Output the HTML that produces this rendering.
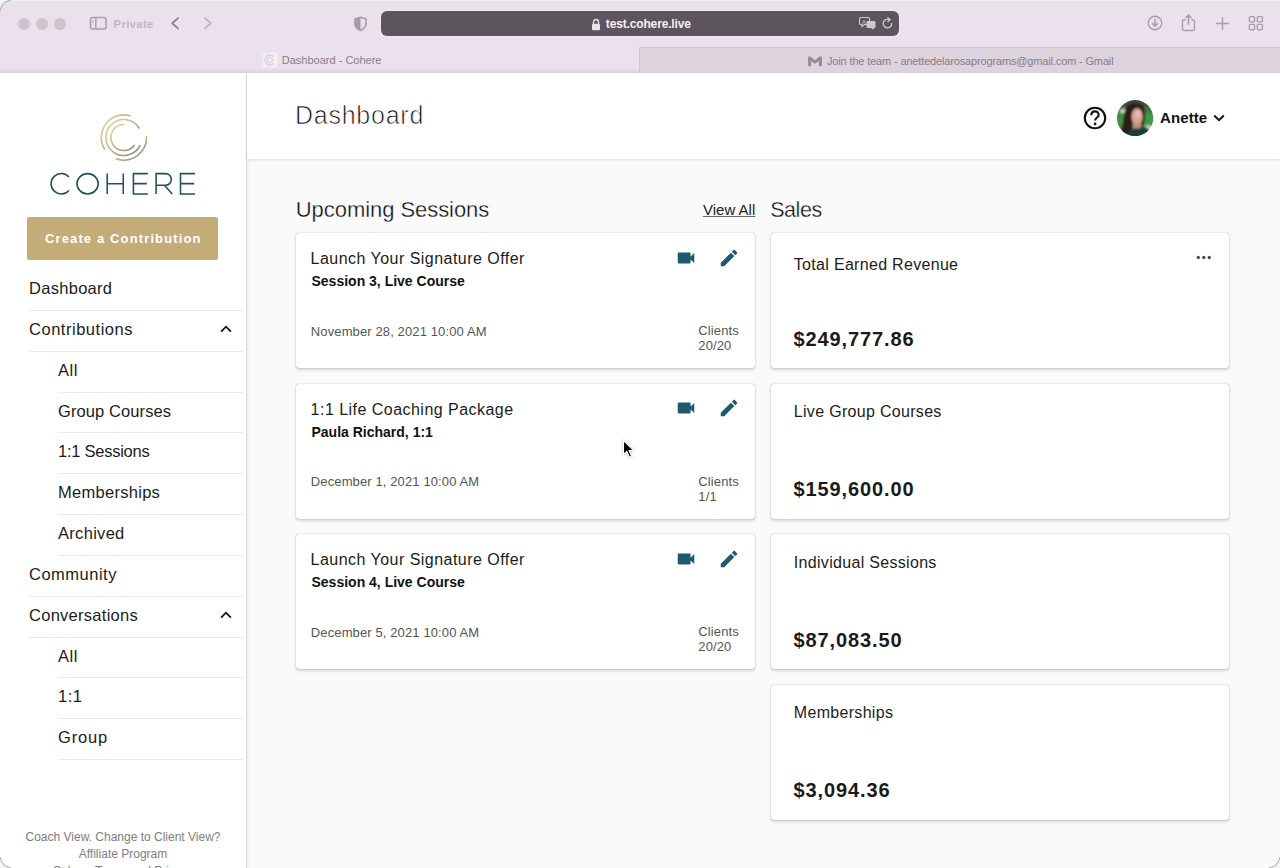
<!DOCTYPE html>
<html><head><meta charset="utf-8"><title>Dashboard - Cohere</title>
<style>
*{box-sizing:border-box;margin:0;padding:0}
html,body{width:1280px;height:868px;overflow:hidden;background:#fafafa;font-family:"Liberation Sans",sans-serif;color:#1c1c1c}
.abs{position:absolute}
#chrome{position:absolute;left:0;top:0;width:1280px;height:73px;background:#ebe1ec}
#url{position:absolute;left:381px;top:11px;width:518px;height:25px;border-radius:6px;background:#5c555d;box-shadow:0 0 0 0.8px #f3e9f4}
#tabL{position:absolute;left:0;top:47px;width:639px;height:26px;background:#ebe1ec}
#tabR{position:absolute;left:639px;top:47px;width:641px;height:26px;background:#dcd3dc;border-left:1px solid #cfc6d0;border-top:1px solid #d0c7d1}
.tl{position:absolute;top:18px;width:11.5px;height:11.5px;border-radius:50%;background:#cdc4ce}
.ttxt{position:absolute;font-size:11px;color:#877d89;white-space:nowrap;line-height:13px}
#sidebar{position:absolute;left:0;top:73px;width:247px;height:795px;background:#fff;border-right:1px solid #dcdcdc;box-shadow:1px 0 4px rgba(0,0,0,.08)}
.nav{position:absolute;left:29px;width:213.5px;height:41px;border-bottom:1px solid #ebebeb;font-size:16.5px;letter-spacing:0.45px;color:#1c1c1c;white-space:nowrap}
.nav.sub{left:58px;width:184.5px}
.nav span{position:absolute;left:0;top:9.2px;line-height:18px}
.chev{position:absolute;right:11px;top:14.6px}
#header{position:absolute;left:247px;top:73px;width:1033px;height:86px;background:#fff;box-shadow:0 1px 3px rgba(0,0,0,.12)}
.card{position:absolute;background:#fff;border-radius:3px;box-shadow:0 0 1px rgba(0,0,0,.45),0 1.5px 3px rgba(0,0,0,.15)}
.t16{font-size:16px;color:#1c1c1c;line-height:18px;white-space:nowrap;letter-spacing:0.47px}
.b14{font-size:14px;font-weight:700;color:#111;line-height:16px;white-space:nowrap}
.d13{font-size:13px;color:#555;line-height:14.7px;white-space:nowrap;letter-spacing:0.12px}
.v20{font-size:20px;font-weight:700;color:#1a1a1a;line-height:23px;white-space:nowrap;letter-spacing:0.9px}
</style></head>
<body>
<div id="chrome">
  <div class="abs" style="left:0;top:0;width:1280px;height:6px;background:linear-gradient(#f1f0f2 0,#f1f0f2 1px,#e6e2e7 1.5px,#e7e3e8 6px)"></div>
  <div class="tl" style="left:18px"></div>
  <div class="tl" style="left:36.2px"></div>
  <div class="tl" style="left:54.2px"></div>
  <svg class="abs" style="left:88.5px;top:15.7px" width="19" height="15" viewBox="0 0 19 15"><rect x="1.5" y="1.5" width="15.5" height="11.5" rx="2.2" fill="none" stroke="#a79dab" stroke-width="1.5"/><line x1="6.8" y1="1.5" x2="6.8" y2="13" stroke="#a79dab" stroke-width="1.4"/><line x1="4" y1="4.2" x2="4" y2="6.8" stroke="#a79dab" stroke-width="1.2"/></svg>
  <div class="abs" style="left:113.5px;top:17.5px;font-size:11.3px;font-weight:700;color:#c0b6c2;line-height:13px;letter-spacing:0.35px">Private</div>
  <svg class="abs" style="left:168px;top:14px" width="14" height="18" viewBox="0 0 14 18"><path d="M10 4.2 L4.2 9.3 L10 14.4" fill="none" stroke="#8f8592" stroke-width="1.8" stroke-linecap="round" stroke-linejoin="round"/></svg>
  <svg class="abs" style="left:201px;top:14px" width="14" height="18" viewBox="0 0 14 18"><path d="M4 4.2 L9.8 9.3 L4 14.4" fill="none" stroke="#bfb5c2" stroke-width="1.8" stroke-linecap="round" stroke-linejoin="round"/></svg>
  <svg class="abs" style="left:352.6px;top:15.7px" width="15" height="17" viewBox="0 0 15 17"><path d="M7.5 1.2 L13 2.9 V8 C13 10.9 10.7 13 7.5 14.4 C4.3 13 2 10.9 2 8 V2.9 Z" fill="none" stroke="#a59ba8" stroke-width="1.6" stroke-linejoin="round"/><path d="M7.5 1.2 L2 2.9 V8 C2 10.9 4.3 13 7.5 14.4 Z" fill="#a59ba8"/></svg>
  <div id="url">
    <svg class="abs" style="left:210.3px;top:6.6px" width="10" height="13" viewBox="0 0 10 13"><path d="M2.5 6 V4 a2.5 2.5 0 0 1 5 0 V6" fill="none" stroke="#e8e2ea" stroke-width="1.4"/><rect x="1" y="5.8" width="8" height="6.4" rx="1.2" fill="#e8e2ea"/></svg>
    <div class="abs" style="left:224.8px;top:6px;font-size:12px;font-weight:700;color:#f4f0f5;line-height:15px;letter-spacing:-0.15px">test.cohere.live</div>
    <svg class="abs" style="left:478px;top:5px" width="18" height="15" viewBox="0 0 18 15"><path d="M1.5 1.5 h8 a1 1 0 0 1 1 1 v5 a1 1 0 0 1 -1 1 h-4 l-2.5 2 v-2 h-1.5 a1 1 0 0 1 -1 -1 v-5 a1 1 0 0 1 1 -1z" fill="none" stroke="#cfc8d1" stroke-width="1.1"/><path d="M8.5 5 h7 a1 1 0 0 1 1 1 v5 a1 1 0 0 1 -1 1 h-1 v2 l-2.5 -2 h-3.5 a1 1 0 0 1 -1 -1 v-5 a1 1 0 0 1 1 -1z" fill="#cfc8d1"/><text x="3" y="7.5" font-size="6" fill="#cfc8d1" font-family="Liberation Sans">A</text></svg>
    <svg class="abs" style="left:500px;top:6px" width="13" height="13" viewBox="0 0 13 13"><path d="M10.8 6.5 A4.3 4.3 0 1 1 8.3 2.6" fill="none" stroke="#cfc8d1" stroke-width="1.3" stroke-linecap="round"/><path d="M6.8 0.8 L9.2 2.6 L7 4.6" fill="none" stroke="#cfc8d1" stroke-width="1.3" stroke-linecap="round" stroke-linejoin="round"/></svg>
  </div>
  <svg class="abs" style="left:1145.5px;top:14.4px" width="18" height="18" viewBox="0 0 18 18"><circle cx="9" cy="9" r="6.75" fill="none" stroke="#a89eab" stroke-width="1.4"/><path d="M9 5.3 V12 M6.5 9.6 L9 12.1 L11.5 9.6" fill="none" stroke="#a89eab" stroke-width="1.5" stroke-linecap="round" stroke-linejoin="round"/></svg>
  <svg class="abs" style="left:1180px;top:12px" width="17" height="20" viewBox="0 0 17 20"><path d="M5.5 7.8 H4.3 A1.8 1.8 0 0 0 2.5 9.6 V16.7 A1.8 1.8 0 0 0 4.3 18.5 H12.7 A1.8 1.8 0 0 0 14.5 16.7 V9.6 A1.8 1.8 0 0 0 12.7 7.8 H11.5" fill="none" stroke="#a89eab" stroke-width="1.4" stroke-linejoin="round"/><path d="M8.5 12.5 V3.2 M6 5.6 L8.5 3.1 L11 5.6" fill="none" stroke="#a89eab" stroke-width="1.5" stroke-linecap="round" stroke-linejoin="round"/></svg>
  <svg class="abs" style="left:1213.5px;top:14.7px" width="17" height="17" viewBox="0 0 17 17"><path d="M8.5 2.6 V14.4 M2.6 8.5 H14.4" stroke="#a89eab" stroke-width="1.5" stroke-linecap="round"/></svg>
  <svg class="abs" style="left:1247.6px;top:14.5px" width="17" height="17" viewBox="0 0 17 17"><rect x="1.3" y="1.6" width="5.3" height="5.3" rx="1.3" fill="none" stroke="#a89eab" stroke-width="1.4"/><rect x="9.2" y="1.6" width="5.3" height="5.3" rx="1.3" fill="none" stroke="#a89eab" stroke-width="1.4"/><rect x="1.3" y="9.4" width="5.3" height="5.3" rx="1.3" fill="none" stroke="#a89eab" stroke-width="1.4"/><rect x="9.2" y="9.4" width="5.3" height="5.3" rx="1.3" fill="none" stroke="#a89eab" stroke-width="1.4"/></svg>
  <div id="tabL">
    <svg class="abs" style="left:262px;top:5px" width="16" height="16" viewBox="0 0 16 16"><rect x="0.5" y="0.5" width="15" height="15" rx="3" fill="#f3eef4"/><path d="M11.5 4.5 A5 5 0 1 0 12 11" fill="none" stroke="#d8d0da" stroke-width="1.4"/><circle cx="8" cy="8" r="2.5" fill="none" stroke="#d8d0da" stroke-width="1.2"/></svg>
    <div class="ttxt" style="left:281.8px;top:7px">Dashboard - Cohere</div>
  </div>
  <div class="abs" style="left:0;top:68px;width:1280px;height:5px;background:linear-gradient(rgba(90,80,95,0),rgba(90,80,95,.09))"></div>
  <div id="tabR">
    <svg class="abs" style="left:168px;top:8px" width="14" height="11" viewBox="0 0 14 11"><path d="M1.6 10.2 V1.8 L7 6.2 L12.4 1.8 V10.2" fill="none" stroke="#958b97" stroke-width="3" stroke-linejoin="round"/></svg>
    <div class="ttxt" style="left:187px;top:7px;letter-spacing:-0.15px">Join the team - anettedelarosaprograms@gmail.com - Gmail</div>
  </div>
</div>

<div id="sidebar">
  <svg class="abs" style="left:94px;top:35.8px" width="60" height="56" viewBox="0 0 60 56">
    <defs><linearGradient id="lg" x1="0" y1="0" x2="1" y2="1"><stop offset="0" stop-color="#e2dc9c"/><stop offset="0.5" stop-color="#c0b28a"/><stop offset="1" stop-color="#8a8276"/></linearGradient></defs>
    <g fill="none" stroke="url(#lg)" stroke-width="1.6" stroke-linecap="round">
      <path d="M35.94 6.72 A22.6 22.6 0 0 0 10.43 39.97"/>
      <path d="M22.54 49.87 A22.6 22.6 0 0 0 52.49 27.83"/>
      <path d="M45.16 18.96 A18.0 18.0 0 1 0 45.94 36.67"/>
      <path d="M29.58 15.50 A13.0 13.0 0 1 0 40.14 36.50"/>
    </g>
  </svg>
  <svg class="abs" style="left:46px;top:96px" width="156" height="30" viewBox="0 0 156 30">
    <g fill="none" stroke="#22505f" stroke-width="1.55">
      <path d="M22.95 8.06 A10.2 10.2 0 1 0 22.95 21.44"/>
      <ellipse cx="41.6" cy="14.75" rx="10.6" ry="10.15"/>
      <path d="M61.2 4.6 V24.9 M77.25 4.6 V24.9 M61.2 14.75 H77.25"/>
      <path d="M101.8 4.6 H87.4 V24.9 H101.8 M87.4 14.6 H100.9"/>
      <path d="M110.1 24.9 V4.6 H119.5 A5.85 5.85 0 0 1 119.5 16.3 H110.1 M118.5 16.3 L126.2 24.9"/>
      <path d="M149 4.6 H134.5 V24.9 H149 M134.5 14.6 H148.1"/>
    </g>
  </svg>
  <div class="abs" style="left:27px;top:144px;width:191px;height:43px;background:#c4ac78;border-radius:2px;color:#fff;font-size:13px;font-weight:700;letter-spacing:1.13px;padding-left:1.6px;line-height:43px;text-align:center">Create a Contribution</div>
  <div class="nav" style="top:196.90px"><span style="letter-spacing:0.29px">Dashboard</span></div>
  <div class="nav" style="top:237.74px"><span style="letter-spacing:0.52px">Contributions</span><svg class="chev" width="12" height="8" viewBox="0 0 12 8"><path d="M1.1 6.6 L6 1.7 L10.9 6.6" fill="none" stroke="#111" stroke-width="1.8"/></svg></div>
  <div class="nav sub" style="top:278.58px"><span style="letter-spacing:0.6px">All</span></div>
  <div class="nav sub" style="top:319.42px"><span style="letter-spacing:0.1px">Group Courses</span></div>
  <div class="nav sub" style="top:360.26px"><span style="letter-spacing:-0.25px">1:1 Sessions</span></div>
  <div class="nav sub" style="top:401.10px"><span style="letter-spacing:0.28px">Memberships</span></div>
  <div class="nav sub" style="top:441.94px"><span style="letter-spacing:0.3px">Archived</span></div>
  <div class="nav" style="top:482.78px"><span style="letter-spacing:0.5px">Community</span></div>
  <div class="nav" style="top:523.62px"><span style="letter-spacing:0.27px">Conversations</span><svg class="chev" width="12" height="8" viewBox="0 0 12 8"><path d="M1.1 6.6 L6 1.7 L10.9 6.6" fill="none" stroke="#111" stroke-width="1.8"/></svg></div>
  <div class="nav sub" style="top:564.46px"><span style="letter-spacing:0.6px">All</span></div>
  <div class="nav sub" style="top:605.30px"><span style="letter-spacing:0.5px">1:1</span></div>
  <div class="nav sub" style="top:646.14px"><span style="letter-spacing:0.8px">Group</span></div>
  <div class="abs" style="left:0;top:755.8px;width:246px;text-align:center;font-size:12px;color:#7d7d7d;line-height:17.2px">Coach View. Change to Client View?<br>Affiliate Program<br>Cohere Terms and Privacy</div>
</div>

<div id="header">
  <div class="abs" style="left:48px;top:28.2px;font-size:25px;color:#111;letter-spacing:0.75px;line-height:28px;-webkit-text-stroke:0.7px #fff">Dashboard</div>
  <svg class="abs" style="left:835px;top:32px" width="26" height="26" viewBox="0 0 26 26"><circle cx="13" cy="13" r="10.2" fill="none" stroke="#111" stroke-width="2.1"/><path d="M9.3 10.2 C9.3 7.8 11 6.4 13 6.4 C15 6.4 16.7 7.8 16.7 9.9 C16.7 12.3 13.1 12.7 13.1 15.6" fill="none" stroke="#111" stroke-width="2.1"/><circle cx="13.1" cy="18.9" r="1.35" fill="#111"/></svg>
  <svg id="avatar" class="abs" style="left:869.8px;top:26.8px" width="36.2" height="36.2" viewBox="0 0 36 36">
    <defs><clipPath id="avc"><circle cx="18" cy="18" r="18"/></clipPath><filter id="avb" x="-20%" y="-20%" width="140%" height="140%"><feGaussianBlur stdDeviation="0.9"/></filter></defs>
    <g clip-path="url(#avc)"><g filter="url(#avb)">
      <rect x="-3" y="-3" width="42" height="42" fill="#5d6b5a"/>
      <rect x="-3" y="-3" width="42" height="9" fill="#3e4a3d"/>
      <ellipse cx="5" cy="18" rx="7" ry="8" fill="#3f8e40"/>
      <ellipse cx="6" cy="11" rx="3" ry="2" fill="#c9d6c2"/>
      <ellipse cx="30" cy="17" rx="8" ry="10" fill="#3d9a45"/>
      <ellipse cx="33" cy="9" rx="5" ry="4" fill="#4c6e4a"/>
      <ellipse cx="31" cy="28" rx="5" ry="3" fill="#c8cdc6"/>
      <path d="M9 7 C13 2 23 2 27 7 C29 12 28 20 26 26 L22 30 L14 38 L2 38 C6 30 6 16 9 7Z" fill="#2a1d19"/>
      <ellipse cx="20" cy="16.5" rx="5.6" ry="8.3" fill="#d8a796"/>
      <ellipse cx="21" cy="14" rx="2.5" ry="3.5" fill="#e6bcae"/>
      <path d="M16 23 L24 23 L25 30 L15 30 Z" fill="#c58f80"/>
      <path d="M8 38 C10 30 15 28 18 28 C21 29 24 27 26 26 C31 27 35 32 36 38 Z" fill="#163f37"/>
    </g></g>
  </svg>
  <div class="abs" style="left:913px;top:36px;font-size:15px;font-weight:700;color:#111;line-height:17px;letter-spacing:0.1px">Anette</div>
  <svg class="abs" style="left:966px;top:41px" width="12" height="8" viewBox="0 0 12 8"><path d="M1.2 1.5 L6 6.2 L10.8 1.5" fill="none" stroke="#111" stroke-width="2"/></svg>
</div>

<div id="main">
  <div class="abs" style="left:295.8px;top:197.2px;font-size:22px;color:#111;line-height:25px;letter-spacing:-0.06px;-webkit-text-stroke:0.3px #fafafa">Upcoming Sessions</div>
  <div class="abs" style="left:703px;top:201px;font-size:15px;color:#222;line-height:17px;text-decoration:underline;text-decoration-color:#666;text-underline-offset:1.2px">View All</div>
  <div class="abs" style="left:770.2px;top:197.6px;font-size:21.5px;color:#111;line-height:25px;letter-spacing:-0.45px;-webkit-text-stroke:0.3px #fafafa">Sales</div>
  <div class="card" style="left:296px;top:233.0px;width:459px;height:135px">
    <div class="abs t16" style="left:14.6px;top:17px">Launch Your Signature Offer</div>
    <div class="abs b14" style="left:15.5px;top:40.4px">Session 3, Live Course</div>
    <div class="abs d13" style="left:14.8px;top:91.5px">November 28, 2021 10:00 AM</div>
    <div class="abs d13" style="left:402.3px;top:91.3px">Clients<br>20/20</div>
    <svg class="abs" style="left:378.8px;top:13.8px" width="22" height="22" viewBox="0 0 24 24"><path fill="#1d5a70" d="M17 10.5V7c0-.55-.45-1-1-1H4c-.55 0-1 .45-1 1v10c0 .55.45 1 1 1h12c.55 0 1-.45 1-1v-3.5l4 4v-11l-4 4z"/></svg>
    <svg class="abs" style="left:422.2px;top:13.8px" width="22" height="22" viewBox="0 0 24 24"><path fill="#1d5a70" d="M3 17.25V21h3.75L17.81 9.94l-3.75-3.75L3 17.25zM20.71 7.04c.39-.39.39-1.02 0-1.41l-2.34-2.34c-.39-.39-1.02-.39-1.41 0l-1.83 1.83 3.75 3.75 1.83-1.83z"/></svg>
  </div>
  <div class="card" style="left:296px;top:383.5px;width:459px;height:135px">
    <div class="abs t16" style="left:14.6px;top:17px">1:1 Life Coaching Package</div>
    <div class="abs b14" style="left:15.5px;top:40.4px">Paula Richard, 1:1</div>
    <div class="abs d13" style="left:14.8px;top:91.5px">December 1, 2021 10:00 AM</div>
    <div class="abs d13" style="left:402.3px;top:91.3px">Clients<br>1/1</div>
    <svg class="abs" style="left:378.8px;top:13.8px" width="22" height="22" viewBox="0 0 24 24"><path fill="#1d5a70" d="M17 10.5V7c0-.55-.45-1-1-1H4c-.55 0-1 .45-1 1v10c0 .55.45 1 1 1h12c.55 0 1-.45 1-1v-3.5l4 4v-11l-4 4z"/></svg>
    <svg class="abs" style="left:422.2px;top:13.8px" width="22" height="22" viewBox="0 0 24 24"><path fill="#1d5a70" d="M3 17.25V21h3.75L17.81 9.94l-3.75-3.75L3 17.25zM20.71 7.04c.39-.39.39-1.02 0-1.41l-2.34-2.34c-.39-.39-1.02-.39-1.41 0l-1.83 1.83 3.75 3.75 1.83-1.83z"/></svg>
  </div>
  <div class="card" style="left:296px;top:534.0px;width:459px;height:135px">
    <div class="abs t16" style="left:14.6px;top:17px">Launch Your Signature Offer</div>
    <div class="abs b14" style="left:15.5px;top:40.4px">Session 4, Live Course</div>
    <div class="abs d13" style="left:14.8px;top:91.5px">December 5, 2021 10:00 AM</div>
    <div class="abs d13" style="left:402.3px;top:91.3px">Clients<br>20/20</div>
    <svg class="abs" style="left:378.8px;top:13.8px" width="22" height="22" viewBox="0 0 24 24"><path fill="#1d5a70" d="M17 10.5V7c0-.55-.45-1-1-1H4c-.55 0-1 .45-1 1v10c0 .55.45 1 1 1h12c.55 0 1-.45 1-1v-3.5l4 4v-11l-4 4z"/></svg>
    <svg class="abs" style="left:422.2px;top:13.8px" width="22" height="22" viewBox="0 0 24 24"><path fill="#1d5a70" d="M3 17.25V21h3.75L17.81 9.94l-3.75-3.75L3 17.25zM20.71 7.04c.39-.39.39-1.02 0-1.41l-2.34-2.34c-.39-.39-1.02-.39-1.41 0l-1.83 1.83 3.75 3.75 1.83-1.83z"/></svg>
  </div>
  <div class="card" style="left:771px;top:233.0px;width:458.3px;height:135px">
    <div class="abs t16" style="left:22.8px;top:23px;letter-spacing:0.31px">Total Earned Revenue</div>
    <div class="abs v20" style="left:22.5px;top:94.8px">$249,777.86</div>
    <svg class="abs" style="left:425px;top:22.2px" width="16" height="5" viewBox="0 0 16 5"><circle cx="2.3" cy="2.5" r="1.7" fill="#505050"/><circle cx="7.8" cy="2.5" r="1.7" fill="#505050"/><circle cx="13.3" cy="2.5" r="1.7" fill="#505050"/></svg>
  </div>
  <div class="card" style="left:771px;top:383.5px;width:458.3px;height:135px">
    <div class="abs t16" style="left:22.8px;top:19.8px;letter-spacing:0.31px">Live Group Courses</div>
    <div class="abs v20" style="left:22.5px;top:94.8px">$159,600.00</div>
    
  </div>
  <div class="card" style="left:771px;top:534.0px;width:458.3px;height:135px">
    <div class="abs t16" style="left:22.8px;top:19.8px;letter-spacing:0.31px">Individual Sessions</div>
    <div class="abs v20" style="left:22.5px;top:94.8px">$87,083.50</div>
    
  </div>
  <div class="card" style="left:771px;top:684.5px;width:458.3px;height:135px">
    <div class="abs t16" style="left:22.8px;top:19.8px;letter-spacing:0.31px">Memberships</div>
    <div class="abs v20" style="left:22.5px;top:94.8px">$3,094.36</div>
    
  </div>
  <svg class="abs" style="left:621.8px;top:438.8px;filter:drop-shadow(0 0.5px 1px rgba(0,0,0,.3))" width="14" height="20" viewBox="0 0 14 20"><path d="M1.5 1.5 V15.5 L4.8 12.4 L7.4 18.2 L9.6 17.2 L7.1 11.6 L11.6 11.4 Z" fill="#000" stroke="#fff" stroke-width="1.1" stroke-linejoin="round"/></svg>
</div>

<div class="abs" style="left:0;top:0;width:11px;height:11px;background:radial-gradient(circle at 11px 11px,rgba(0,0,0,0) 9.6px,rgba(120,112,122,.55) 10.4px,#f3f1f4 11.4px)"></div>
<div class="abs" style="left:0;top:857px;width:11px;height:11px;background:radial-gradient(circle at 11px 0,rgba(0,0,0,0) 9.6px,rgba(110,110,110,.6) 10.4px,#f5f5f5 11.4px)"></div>
<div class="abs" style="left:1269px;top:857px;width:11px;height:11px;background:radial-gradient(circle at 0 0,rgba(0,0,0,0) 9.6px,rgba(110,110,110,.6) 10.4px,#f5f5f5 11.4px)"></div>
</body></html>
